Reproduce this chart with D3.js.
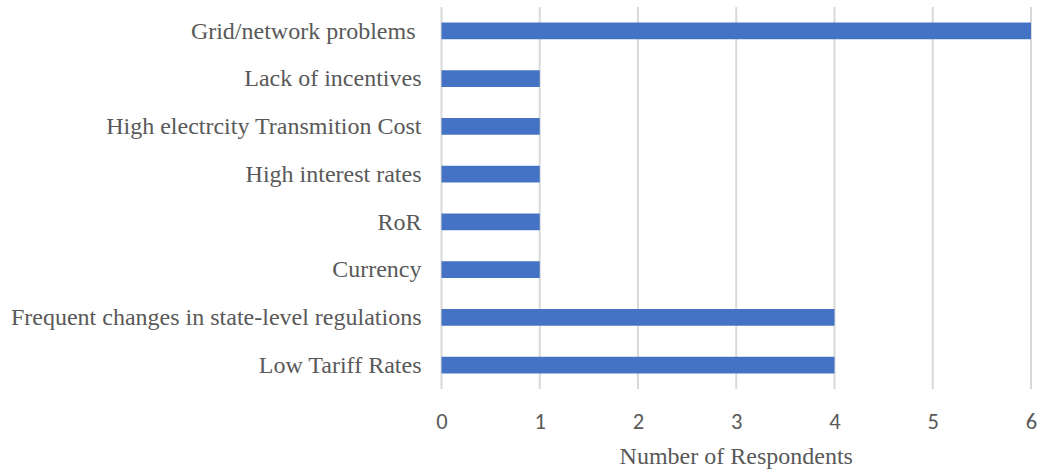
<!DOCTYPE html>
<html>
<head>
<meta charset="utf-8">
<script src="https://cdn.jsdelivr.net/npm/d3@7"></script>
<style>
  html, body { margin: 0; padding: 0; background: #fff; }
  svg { display: block; }
</style>
</head>
<body>
<svg id="chart" width="1040" height="470"></svg>
<script>
// Barriers reported by respondents (top to bottom)
const categories = [
  "Grid/network problems ",
  "Lack of incentives",
  "High electrcity Transmition Cost",
  "High interest rates",
  "RoR",
  "Currency",
  "Frequent changes in state-level regulations",
  "Low Tariff Rates"
];
const respondents = [6, 1, 1, 1, 1, 1, 4, 4];
const xTicks = [0, 1, 2, 3, 4, 5, 6];
const xTitle = "Number of Respondents";

const svg = d3.select("#chart");
const margin = { left: 441.5, right: 9, top: 7, bottom: 81 };
const W = 1040, H = 470;

const x = d3.scaleLinear().domain([0, 6]).range([margin.left, W - margin.right]);
const y = d3.scaleBand().domain(categories).range([margin.top, H - margin.bottom]).paddingInner(0.65).paddingOuter(0.325);

// vertical gridlines
svg.append("g")
  .selectAll("line")
  .data(xTicks)
  .join("line")
  .attr("x1", d => x(d)).attr("x2", d => x(d))
  .attr("y1", margin.top).attr("y2", H - margin.bottom)
  .attr("stroke", "#d9d9d9")
  .attr("stroke-width", 2);

// bars
svg.append("g")
  .selectAll("rect")
  .data(categories)
  .join("rect")
  .attr("x", x(0))
  .attr("y", d => y(d))
  .attr("width", (d, i) => x(respondents[i]) - x(0))
  .attr("height", y.bandwidth())
  .attr("fill", "#4472c4");

// x axis tick labels
const xAxis = d3.axisBottom(x).tickValues(xTicks).tickSize(0).tickPadding(0).tickFormat(d3.format("d"));
const gx = svg.append("g")
  .attr("transform", `translate(0,${H - margin.bottom + 24})`)
  .call(xAxis);
gx.select(".domain").remove();
gx.selectAll("text")
  .attr("font-family", "Carlito, 'Open Sans', 'Liberation Sans', sans-serif")
  .attr("font-size", 22.5)
  .attr("fill", "#595959");

// category labels
const yAxis = d3.axisLeft(y).tickSize(0).tickPadding(20);
const gy = svg.append("g")
  .attr("transform", `translate(${x(0)},0)`)
  .call(yAxis);
gy.select(".domain").remove();
gy.selectAll("text")
  .attr("font-family", "'Liberation Serif', 'Times New Roman', serif")
  .attr("font-size", 24)
  .attr("fill", "#595959")
  .style("white-space", "pre");

// axis title
svg.append("text")
  .attr("x", (x(0) + x(6)) / 2)
  .attr("y", 464)
  .attr("text-anchor", "middle")
  .attr("font-family", "'Liberation Serif', 'Times New Roman', serif")
  .attr("font-size", 24)
  .attr("fill", "#595959")
  .text(xTitle);
</script>
</body>
</html>
